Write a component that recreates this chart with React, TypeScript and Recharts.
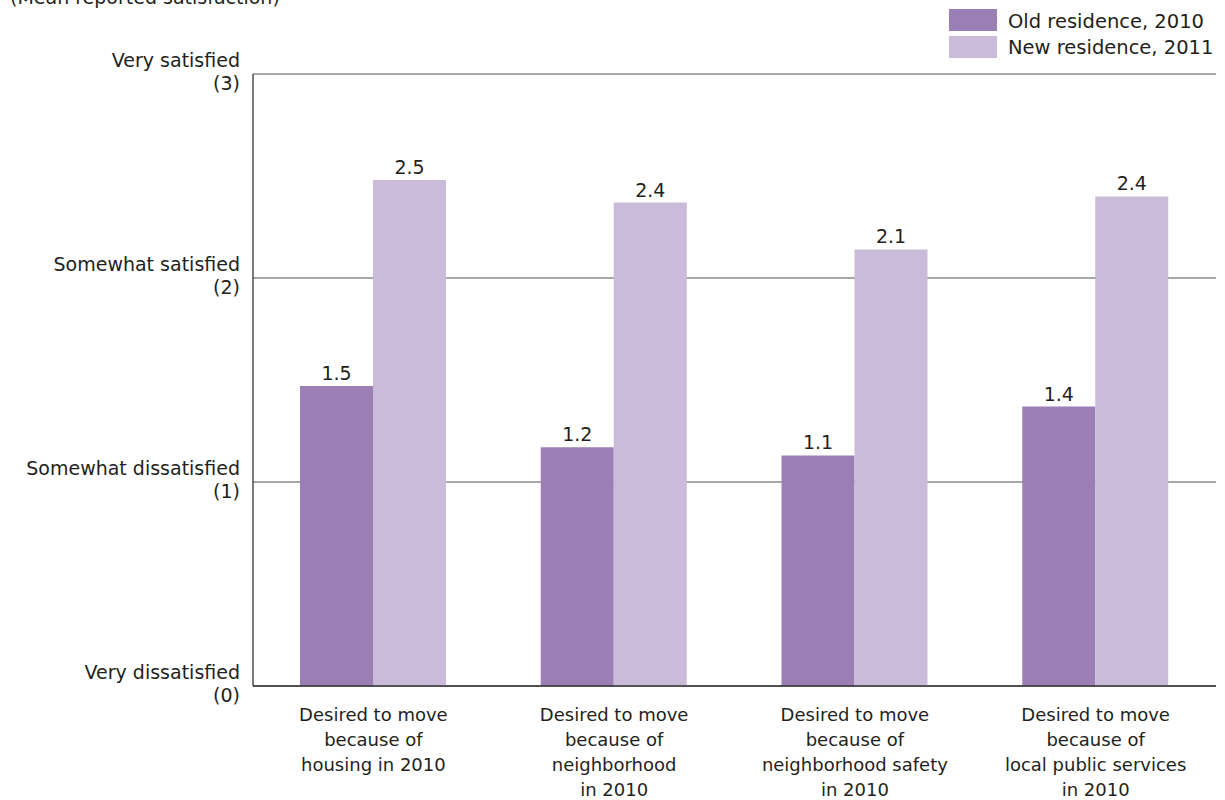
import { BarChart, Bar, XAxis, YAxis, CartesianGrid, LabelList } from 'recharts';

// categories (line breaks as in the original)
const categories = [
  'Desired to move\nbecause of\nhousing in 2010',
  'Desired to move\nbecause of\nneighborhood\nin 2010',
  'Desired to move\nbecause of\nneighborhood safety\nin 2010',
  'Desired to move\nbecause of\nlocal public services\nin 2010',
];
const oldResidence2010 = [1.47, 1.17, 1.13, 1.37];
const newResidence2011 = [2.48, 2.37, 2.14, 2.4];

const yTicks = [0, 1, 2, 3];
const yTickNames = ['Very dissatisfied', 'Somewhat dissatisfied', 'Somewhat satisfied', 'Very satisfied'];

const seriesNames = ['Old residence, 2010', 'New residence, 2011'];
const OLD_COLOR = '#9b7eb4';
const NEW_COLOR = '#c9bbd9';
const TEXT = '#231f20';
const FONT = '"DejaVu Sans", sans-serif';

const data = categories.map((c, i) => ({
  name: c,
  old: oldResidence2010[i],
  new: newResidence2011[i],
}));

const YTick = (props: any) => {
  const { y, payload } = props;
  const i = yTicks.indexOf(payload.value);
  return (
    <text x={240} y={y} textAnchor="end" fontSize={19} fill={TEXT} fontFamily={FONT}>
      <tspan x={240} dy={-7}>{yTickNames[i]}</tspan>
      <tspan x={240} dy={23}>({payload.value})</tspan>
    </text>
  );
};

const XTick = (props: any) => {
  const { x, y, payload } = props;
  const lines = String(payload.value).split('\n');
  return (
    <text x={x} y={y} textAnchor="middle" fontSize={18} fill={TEXT} fontFamily={FONT}>
      {lines.map((l, i) => (
        <tspan key={i} x={x} dy={i === 0 ? 33 : 25}>{l}</tspan>
      ))}
    </text>
  );
};

const LegendBox = () => (
  <svg width={276} height={60} style={{ position: 'absolute', left: 949, top: 0 }}>
    {seriesNames.map((n, i) => (
      <g key={n}>
        <rect x={0} y={9 + i * 27} width={48} height={22} fill={i === 0 ? OLD_COLOR : NEW_COLOR} />
        <text x={59} y={28 + i * 26} fontSize={19.5} fill={TEXT} fontFamily={FONT}>{n}</text>
      </g>
    ))}
  </svg>
);

export default function App() {
  return (
    <div style={{ position: 'absolute', left: 0, top: 0, width: 1225, height: 800, background: '#fff' }}>
      <BarChart
        width={1225}
        height={800}
        data={data}
        margin={{ top: 74, right: 9, bottom: 0, left: 0 }}
        barGap={0}
      >
        <text x={10} y={4} fontSize={19} fill={TEXT} fontFamily={FONT}>(Mean reported satisfaction)</text>
        <CartesianGrid horizontal vertical={false} stroke="#8a8a8a" strokeWidth={1.3} />
        <XAxis
          dataKey="name"
          interval={0}
          height={114}
          tickLine={false}
          tickSize={0}
          tick={<XTick />}
          axisLine={{ stroke: '#333', strokeWidth: 1.3 }}
        />
        <YAxis
          type="number"
          domain={[0, 3]}
          ticks={yTicks}
          width={253}
          tickLine={false}
          tick={<YTick />}
          axisLine={{ stroke: '#333', strokeWidth: 1.3 }}
        />
        <Bar dataKey="old" name={seriesNames[0]} fill={OLD_COLOR} barSize={73} isAnimationActive={false}>
          <LabelList dataKey="old" position="top" offset={6} formatter={(v: any) => Number(v).toFixed(1)} fill={TEXT} fontSize={19} fontFamily={FONT} />
        </Bar>
        <Bar dataKey="new" name={seriesNames[1]} fill={NEW_COLOR} barSize={73} isAnimationActive={false}>
          <LabelList dataKey="new" position="top" offset={6} formatter={(v: any) => Number(v).toFixed(1)} fill={TEXT} fontSize={19} fontFamily={FONT} />
        </Bar>
      </BarChart>
      <LegendBox />
    </div>
  );
}
